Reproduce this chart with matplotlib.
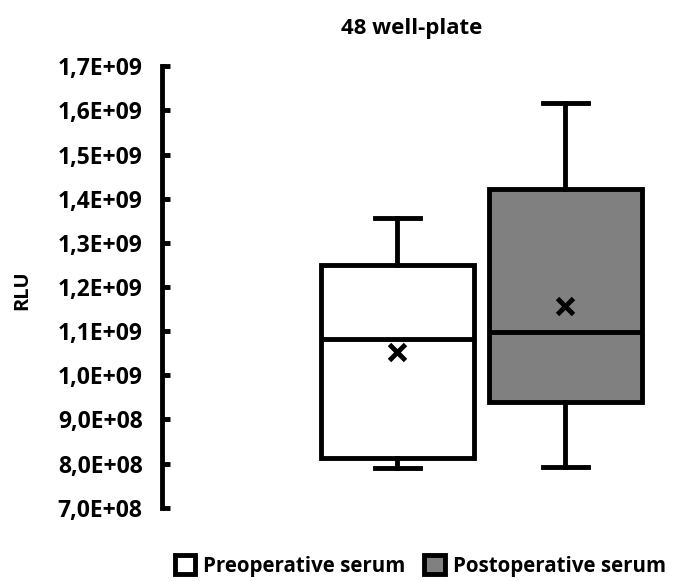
import matplotlib
matplotlib.use("Agg")
import matplotlib.pyplot as plt
from matplotlib.patches import Patch
from matplotlib.ticker import FuncFormatter

plt.rcParams["font.family"] = ["Open Sans", "DejaVu Sans"]
plt.rcParams["font.weight"] = "bold"

# data (RLU)
groups = ["Preoperative serum", "Postoperative serum"]
whislo = [7.90e8, 7.93e8]
q1 = [8.13e8, 9.40e8]
med = [1.082e9, 1.098e9]
q3 = [1.250e9, 1.422e9]
whishi = [1.356e9, 1.616e9]
means = [1.053e9, 1.157e9]
colors = ["#FFFFFF", "#808080"]
yticks = [7e8, 8e8, 9e8, 1.0e9, 1.1e9, 1.2e9, 1.3e9, 1.4e9, 1.5e9, 1.6e9, 1.7e9]

stats = []
for i, g in enumerate(groups):
    stats.append(dict(label=g, whislo=whislo[i], q1=q1[i], med=med[i],
                      q3=q3[i], whishi=whishi[i], mean=means[i], fliers=[]))

fig = plt.figure(figsize=(6.78, 5.81), dpi=100)
ax = fig.add_axes([0.239, 0.126, 0.735, 0.760])

lw = 3.5
bp = ax.bxp(stats, positions=[1, 2], widths=0.91, patch_artist=True,
            showmeans=True, meanline=False, showfliers=False,
            boxprops=dict(linewidth=lw, edgecolor="black"),
            medianprops=dict(linewidth=lw, color="black"),
            whiskerprops=dict(linewidth=lw, color="black"),
            capprops=dict(linewidth=lw, color="black"),
            meanprops=dict(marker="x", markersize=11, markeredgewidth=3.5,
                           markeredgecolor="black"),
            capwidths=0.27)
for patch, c in zip(bp["boxes"], colors):
    patch.set_facecolor(c)

ax.set_xlim(-0.399, 2.565)
ax.set_ylim(7e8, 1.7e9)
ax.set_yticks(yticks)
ax.yaxis.set_major_formatter(FuncFormatter(
    lambda v, p: f"{v:.1E}".replace(".", ",")))
ax.set_xticks([])
for s in ["top", "right", "bottom"]:
    ax.spines[s].set_visible(False)
ax.spines["left"].set_linewidth(3.5)
ax.tick_params(axis="y", direction="in", length=6, width=3.5,
               labelsize=16.5, pad=14)
for lab in ax.get_yticklabels():
    lab.set_fontweight("bold")

ax.set_title("48 well-plate", fontsize=16, fontweight="bold", pad=23)
fig.text(0.033, 0.5, "RLU", rotation=90, fontsize=14.5, fontweight="bold",
         ha="center", va="center")

handles = [Patch(facecolor=c, edgecolor="black", linewidth=3.5) for c in colors]
fig.legend(handles, groups, loc="center", bbox_to_anchor=(0.62, 0.026),
           ncol=2, frameon=False, handlelength=1.0, handleheight=1.0,
           handletextpad=0.4, columnspacing=0.9,
           prop=dict(size=14.8, weight="bold"))

fig.savefig("out.png", dpi=100)
